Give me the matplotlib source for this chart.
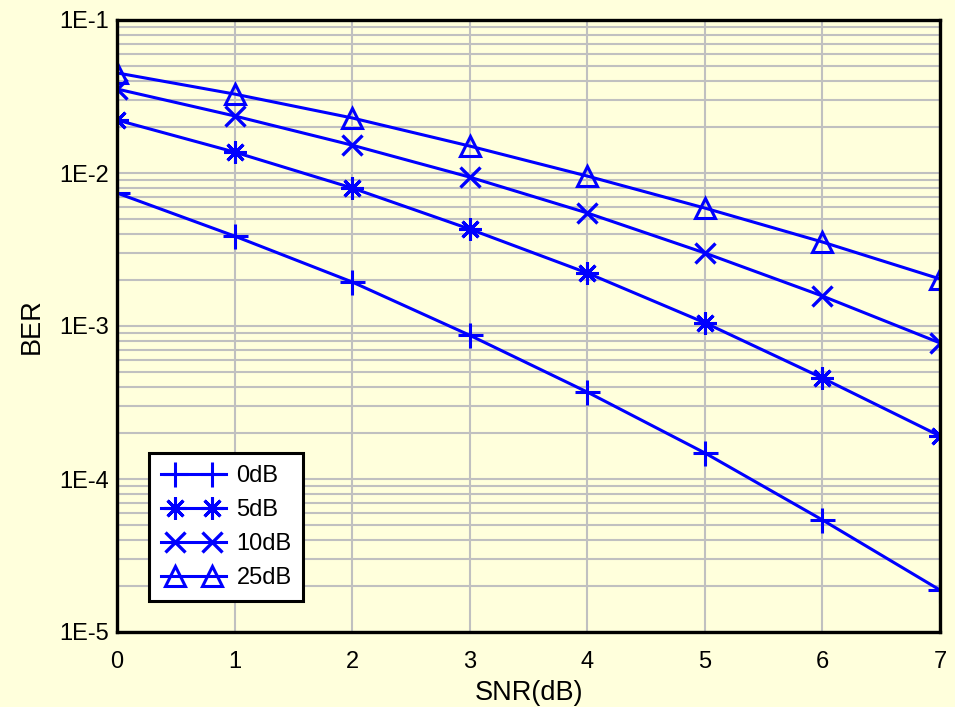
import numpy as np
import matplotlib
matplotlib.use("Agg")
import matplotlib.pyplot as plt
from matplotlib.lines import Line2D
from matplotlib.legend_handler import HandlerLine2D
from matplotlib.ticker import LogLocator, NullFormatter

plt.rcParams['font.family'] = ['Liberation Sans', 'DejaVu Sans']

# Dane
snr = [0, 1, 2, 3, 4, 5, 6, 7]
ber_0db = [0.0074, 0.00387, 0.00194, 0.00087, 0.00037, 0.000148, 5.4e-5, 1.88e-5]
ber_5db = [0.0222, 0.0137, 0.00798, 0.0043, 0.00222, 0.00105, 0.000457, 0.000191]
ber_10db = [0.0354, 0.0236, 0.0152, 0.0094, 0.00548, 0.0030, 0.00157, 0.000775]
ber_25db = [0.0451, 0.0328, 0.0229, 0.0150, 0.00955, 0.0059, 0.00354, 0.00203]
labels = ['0dB', '5dB', '10dB', '25dB']
y_ticks = [1e-5, 1e-4, 1e-3, 1e-2, 1e-1]
y_tick_labels = ['1E-5', '1E-4', '1E-3', '1E-2', '1E-1']

bg = '#ffffdc'
blue = '#0000ff'


# linia w legendzie wystaje poza oba znaczniki
class InsetMarkers(HandlerLine2D):
    def create_artists(self, legend, orig_handle, xdescent, ydescent,
                       width, height, fontsize, trans):
        x0, x1 = -xdescent, -xdescent + width
        y = (height - ydescent) / 2
        d = 0.22 * width
        line = Line2D([x0, x1], [y, y])
        self.update_prop(line, orig_handle, legend)
        line.set_marker('None')
        mk = Line2D([x0 + d, x1 - d], [y, y])
        self.update_prop(mk, orig_handle, legend)
        mk.set_linestyle('None')
        line.set_transform(trans)
        mk.set_transform(trans)
        return [line, mk]


fig = plt.figure(figsize=(9.55, 7.07), dpi=100, facecolor=bg)
ax = fig.add_axes([117 / 955, 75 / 707, 823 / 955, 612 / 707])
ax.set_facecolor(bg)

styles = [
    dict(marker='+', ms=18, mew=2.2),
    dict(marker=(8, 2, 0), ms=16, mew=2.2),
    dict(marker='x', ms=15, mew=2.4),
    dict(marker='^', ms=14, mew=2.2, mfc='none'),
]
series = [ber_0db, ber_5db, ber_10db, ber_25db]
handles = []
for ys, lab, st in zip(series, labels, styles):
    h, = ax.plot(snr, ys, color=blue, lw=2.2, label=lab, **st)
    handles.append(h)

ax.set_yscale('log')
ax.set_xlim(0, 7)
ax.set_ylim(1e-5, 1e-1)
ax.set_xticks(snr)
ax.set_yticks(y_ticks)
ax.set_yticklabels(y_tick_labels)
ax.yaxis.set_minor_locator(LogLocator(base=10, subs=np.arange(2, 10)))
ax.yaxis.set_minor_formatter(NullFormatter())
ax.tick_params(which='both', length=0, labelsize=17)
ax.tick_params(axis='x', pad=14)
ax.tick_params(axis='y', pad=6)
ax.grid(True, which='both', color='#c0c0c0', lw=1.5)
ax.set_axisbelow(True)
for s in ax.spines.values():
    s.set_linewidth(2.4)
    s.set_color('black')

ax.set_xlabel('SNR(dB)', fontsize=19.5, labelpad=5)
ax.set_ylabel('BER', fontsize=19.5, labelpad=10)

leg = ax.legend(handles=handles, loc='lower left', bbox_to_anchor=(0.039, 0.051),
                borderaxespad=0, fontsize=17, fancybox=False, framealpha=1,
                edgecolor='black', handlelength=2.75, handletextpad=0.45,
                borderpad=0.5, labelspacing=0.51,
                handler_map={h: InsetMarkers() for h in handles})
leg.get_frame().set_linewidth(2.2)

fig.savefig('out.png', dpi=100, facecolor=bg)
